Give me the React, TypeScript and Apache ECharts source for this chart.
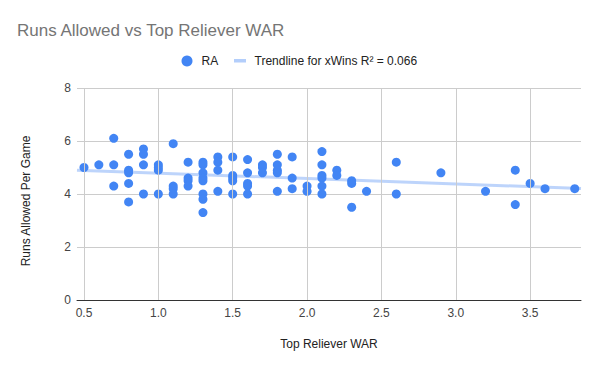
import React, { useEffect, useRef } from "react";
import * as echarts from "echarts";

const warValues = [
  0.5, 0.6, 0.7, 0.7, 0.7, 0.8, 0.8, 0.8, 0.8, 0.8, 0.9, 0.9, 0.9, 0.9,
  1.0, 1.0, 1.0, 1.0, 1.1, 1.1, 1.1, 1.1, 1.2, 1.2, 1.2, 1.2,
  1.3, 1.3, 1.3, 1.3, 1.3, 1.3, 1.3, 1.3, 1.4, 1.4, 1.4, 1.4,
  1.5, 1.5, 1.5, 1.5, 1.5, 1.6, 1.6, 1.6, 1.6, 1.6, 1.7, 1.7, 1.7,
  1.8, 1.8, 1.8, 1.8, 1.8, 1.9, 1.9, 1.9, 2.0, 2.0,
  2.1, 2.1, 2.1, 2.1, 2.1, 2.1, 2.2, 2.2, 2.3, 2.3, 2.3, 2.4,
  2.6, 2.6, 2.9, 3.2, 3.4, 3.4, 3.5, 3.6, 3.8,
];
const raValues = [
  5.0, 5.1, 6.1, 5.1, 4.3, 5.5, 4.9, 4.8, 4.4, 3.7, 5.7, 5.5, 5.1, 4.0,
  5.1, 5.0, 4.9, 4.0, 5.9, 4.3, 4.2, 4.0, 5.2, 4.6, 4.5, 4.3,
  5.2, 5.1, 4.8, 4.6, 4.5, 4.0, 3.8, 3.3, 5.4, 5.2, 4.9, 4.1,
  5.4, 4.7, 4.6, 4.5, 4.0, 5.3, 4.8, 4.4, 4.3, 4.0, 5.1, 5.0, 4.8,
  5.5, 5.1, 4.9, 4.8, 4.1, 5.4, 4.6, 4.2, 4.3, 4.1,
  5.6, 5.1, 4.7, 4.6, 4.3, 4.0, 4.9, 4.7, 4.5, 4.4, 3.5, 4.1,
  5.2, 4.0, 4.8, 4.1, 4.9, 3.6, 4.4, 4.2, 4.2,
];
const xTicks = ["0.5", "1.0", "1.5", "2.0", "2.5", "3.0", "3.5"];
const yTicks = [0, 2, 4, 6, 8];
const titleText = "Runs Allowed vs Top Reliever WAR";
const seriesName = "RA";
const trendName = "Trendline for xWins R² = 0.066";
const xTitle = "Top Reliever WAR";
const yTitle = "Runs Allowed Per Game";

const X_MIN = 0.453;
const X_MAX = 3.842;

function regression(xs: number[], ys: number[]) {
  const n = xs.length;
  let sx = 0, sy = 0, sxx = 0, sxy = 0;
  for (let i = 0; i < n; i++) {
    sx += xs[i]; sy += ys[i]; sxx += xs[i] * xs[i]; sxy += xs[i] * ys[i];
  }
  const slope = (n * sxy - sx * sy) / (n * sxx - sx * sx);
  const intercept = (sy - slope * sx) / n;
  return { slope, intercept };
}

export default function App() {
  const ref = useRef<HTMLDivElement>(null);
  useEffect(() => {
    if (!ref.current) return;
    const chart = echarts.init(ref.current, undefined, { renderer: "svg" });
    const { slope, intercept } = regression(warValues, raValues);
    const points = warValues.map((x, i) => [x, raValues[i]]);
    const trend = [
      [X_MIN, intercept + slope * X_MIN],
      [X_MAX, intercept + slope * X_MAX],
    ];
    const font = "Liberation Sans";
    chart.setOption({
      animation: false,
      backgroundColor: "#ffffff",
      textStyle: { fontFamily: font },
      grid: { left: 77, right: 19, top: 88, bottom: 71, containLabel: false },
      xAxis: {
        type: "value",
        min: X_MIN,
        max: X_MAX,
        axisLine: { show: true, onZero: false, lineStyle: { color: "#333333", width: 1 } },
        axisTick: { show: false },
        splitLine: { show: false },
        axisLabel: { show: false },
      },
      yAxis: {
        type: "value",
        min: 0,
        max: 8,
        interval: 2,
        axisLine: { show: false },
        axisTick: { show: false },
        splitLine: { show: true, lineStyle: { color: "#cccccc", width: 1 } },
        axisLabel: {
          color: "#444444",
          fontSize: 12,
          margin: 6,
          fontFamily: font,
          formatter: (v: number) => (yTicks.includes(v) ? String(v) : ""),
        },
      },
      series: [
        {
          name: "grid-x",
          type: "line",
          data: [],
          silent: true,
          markLine: {
            silent: true,
            symbol: "none",
            label: { show: false },
            lineStyle: { color: "#cccccc", width: 1, type: "solid" },
            data: xTicks.map((t) => ({ xAxis: parseFloat(t) })),
          },
          z: 0,
        },
        {
          name: trendName,
          type: "line",
          data: trend,
          showSymbol: false,
          symbol: "none",
          lineStyle: { color: "#4285f4", width: 3, opacity: 0.35 },
          z: 2,
        },
        {
          name: seriesName,
          type: "scatter",
          data: points,
          symbolSize: 9,
          itemStyle: { color: "#4285f4", opacity: 1 },
          z: 3,
        },
      ],
    });
    const xLabelGraphics = xTicks.map((t) => ({
      type: "text",
      id: "xt" + t,
      x: chart.convertToPixel({ xAxisIndex: 0 }, parseFloat(t)),
      y: 313,
      style: { text: t, fill: "#444444", fontSize: 12, fontFamily: font, align: "center", verticalAlign: "middle" },
    }));
    chart.setOption({
      graphic: [
        {
          type: "text",
          id: "title",
          left: 17,
          top: 22,
          style: { text: titleText, fill: "#757575", fontSize: 17, fontFamily: font },
        },
        {
          type: "circle",
          id: "legDot",
          shape: { cx: 187, cy: 61, r: 5.5 },
          style: { fill: "#4285f4" },
        },
        {
          type: "text",
          id: "legRA",
          x: 201.5,
          y: 61,
          style: { text: seriesName, fill: "#222222", fontSize: 12, fontFamily: font, verticalAlign: "middle" },
        },
        {
          type: "rect",
          id: "legLine",
          shape: { x: 234, y: 59, width: 12, height: 3.5 },
          style: { fill: "#4285f4", opacity: 0.4 },
        },
        {
          type: "text",
          id: "legTrend",
          x: 254.5,
          y: 61,
          style: { text: trendName, fill: "#222222", fontSize: 12, fontFamily: font, verticalAlign: "middle" },
        },
        ...xLabelGraphics,
        {
          type: "text",
          id: "xTitle",
          x: 329,
          y: 344,
          style: { text: xTitle, fill: "#222222", fontSize: 12, fontFamily: font, align: "center", verticalAlign: "middle" },
        },
        {
          type: "text",
          id: "yTitle",
          x: 26,
          y: 201,
          rotation: Math.PI / 2,
          style: { text: yTitle, fill: "#222222", fontSize: 12, fontFamily: font, align: "center", verticalAlign: "middle" },
        },
      ],
    });
    return () => chart.dispose();
  }, []);
  return <div ref={ref} style={{ width: 600, height: 371, position: "absolute", left: 0, top: 0 }} />;
}
